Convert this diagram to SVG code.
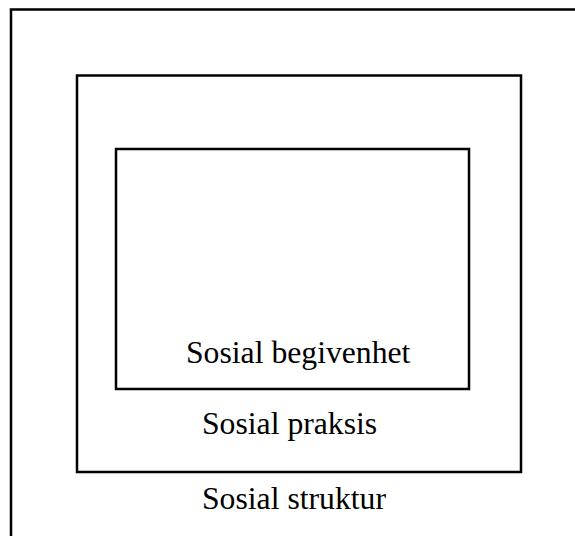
<svg xmlns="http://www.w3.org/2000/svg" width="575" height="536" viewBox="0 0 575 536">
  <style>
    .box { fill: none; stroke: #000; stroke-width: 2.5; }
    .label { font-family: "Liberation Serif", "Times New Roman", serif; font-size: 31.7px; fill: #000; }
  </style>
  <rect width="575" height="536" fill="#fff"/>
  <g id="sosial-struktur">
    <rect class="box" x="11" y="9.5" width="600" height="560"/>
    <text class="label" x="202" y="508.5">Sosial struktur</text>
  </g>
  <g id="sosial-praksis">
    <rect class="box" x="77" y="75.5" width="444" height="396.5"/>
    <text class="label" x="202" y="434">Sosial praksis</text>
  </g>
  <g id="sosial-begivenhet">
    <rect class="box" x="116" y="149" width="353" height="240"/>
    <text class="label" x="186" y="362.5">Sosial begivenhet</text>
  </g>
  <g id="connectors"/>
</svg>
